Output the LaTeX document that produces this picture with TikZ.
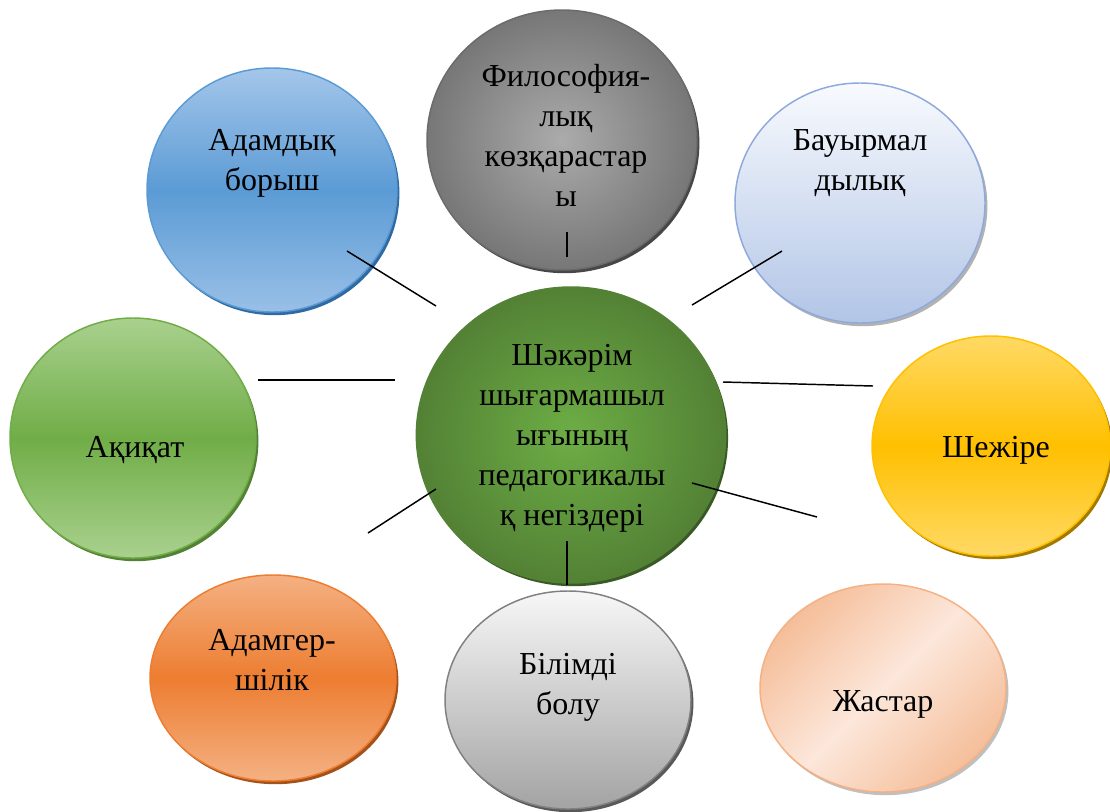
\documentclass[tikz,border=0pt]{standalone}
\usepackage{fontspec}
\setmainfont{Liberation Serif}
\usetikzlibrary{shapes.geometric}

\definecolor{grnD}{HTML}{538135}
\definecolor{grnM}{HTML}{6DAE45}
\definecolor{gryD}{HTML}{777777}
\definecolor{gryM}{HTML}{ABABAB}
\definecolor{bluT}{HTML}{A4C6EA}
\definecolor{bluM}{HTML}{5B9BD5}
\definecolor{bluS}{HTML}{2F6AA3}
\definecolor{palT}{HTML}{F8FAFE}
\definecolor{palB}{HTML}{B2C5E6}
\definecolor{palE}{HTML}{8EA9DB}
\definecolor{lgrT}{HTML}{A9D18E}
\definecolor{lgrM}{HTML}{70AD47}
\definecolor{yelT}{HTML}{FFD965}
\definecolor{yelM}{HTML}{FFC000}
\definecolor{yelS}{HTML}{A27A00}
\definecolor{orgT}{HTML}{F4B183}
\definecolor{orgM}{HTML}{ED7D31}
\definecolor{orgS}{HTML}{A4521B}
\definecolor{whtT}{HTML}{F7F7F7}
\definecolor{whtB}{HTML}{A3A3A3}
\definecolor{pchD}{HTML}{F5BE9A}
\definecolor{pchL}{HTML}{FCE7DA}

\tikzset{
  blob/.style={ellipse, draw=#1, line width=1.1pt, inner sep=0pt},
  shade/.style={preaction={fill=#1, transform canvas={xshift=1.8pt, yshift=-2.4pt}}},
  txt/.style={inner sep=0pt, align=center, anchor=base, font=\fontsize{24}{30}\selectfont},
  link/.style={draw=black, line width=1.1pt}
}

\begin{document}
\begin{tikzpicture}[x=0.75pt, y=-0.75pt]
\useasboundingbox (0,0) rectangle (1110,811);

% outer ellipses
\node[blob=gryD!90!black, shade=gryD!60!black, inner color=gryM, outer color=gryD,
  minimum width=202.5pt, minimum height=195pt] (filo) at (562,140) {};
\node[blob=bluM, shade=bluS, top color=bluT, bottom color=bluT!85!bluM, middle color=bluM,
  minimum width=187.5pt, minimum height=183pt] (borysh) at (272,190) {};
\node[blob=palE, shade=gray!60, top color=palT, bottom color=palB,
  minimum width=187.5pt, minimum height=180pt] (bauyr) at (860,203) {};
\node[blob=lgrM, shade=grnD, top color=lgrT, bottom color=lgrT, middle color=lgrM,
  minimum width=184.5pt, minimum height=180pt] (akikat) at (133,438) {};
\node[blob=yelM, shade=yelS, top color=yelT, bottom color=yelT, middle color=yelM,
  minimum width=178.5pt, minimum height=165pt] (shezhire) at (991,446) {};
\node[blob=orgM, shade=orgS, top color=orgT, bottom color=orgT, middle color=orgM,
  minimum width=184.5pt, minimum height=154.5pt] (adamger) at (273,678) {};
\node[blob=gray, shade=gray!70!black, top color=whtT, bottom color=whtB,
  minimum width=184.5pt, minimum height=163.5pt] (bilim) at (568,700) {};
\node[blob=orgT, shade=gray!50, top color=pchD, bottom color=pchD, middle color=pchL,
  shading angle=45, minimum width=184.5pt, minimum height=156pt] (zhastar) at (883,688) {};

% centre
\node[blob=grnD, shade=grnD!70!black, inner color=grnM, outer color=grnD,
  minimum width=232pt, minimum height=222pt] (shakarim) at (571,435) {};

% texts (anchored at the last baseline)
\node[txt] (t-filo) at (566,206) {Философия-\\лық\\көзқарастар\\ы};
\node[txt] (t-borysh) at (272,190) {Адамдық\\борыш};
\node[txt] (t-bauyr) at (860,190) {Бауырмал\\дылық};
\node[txt] (t-akikat) at (135,457) {Ақиқат};
\node[txt] (t-shezhire) at (996,457) {Шежіре};
\node[txt] (t-adamger) at (272,690) {Адамгер-\\шілік};
\node[txt] (t-bilim) at (568,714) {Білімді\\болу};
\node[txt] (t-zhastar) at (883,711) {Жастар};
\node[txt] (t-shakarim) at (572,525)
  {Шәкәрім\\шығармашыл\\ығының\\педагогикалы\\қ негіздері};

% connector ends
\coordinate (a1) at (567,232); \coordinate (b1) at (567,257);
\coordinate (a2) at (347,251); \coordinate (b2) at (436,306);
\coordinate (a3) at (692,305); \coordinate (b3) at (782,251);
\coordinate (a4) at (258,380); \coordinate (b4) at (395,380);
\coordinate (a5) at (723,382); \coordinate (b5) at (873,386);
\coordinate (a6) at (692,483); \coordinate (b6) at (817,517);
\coordinate (a7) at (436,489); \coordinate (b7) at (368,533);
\coordinate (a8) at (567,541); \coordinate (b8) at (567,585);

\path[link] (a1) edge (b1);
\path[link] (a2) edge (b2);
\path[link] (a3) edge (b3);
\path[link] (a4) edge (b4);
\path[link] (a5) edge (b5);
\path[link] (a6) edge (b6);
\path[link] (a7) edge (b7);
\path[link] (a8) edge (b8);
\end{tikzpicture}
\end{document}
